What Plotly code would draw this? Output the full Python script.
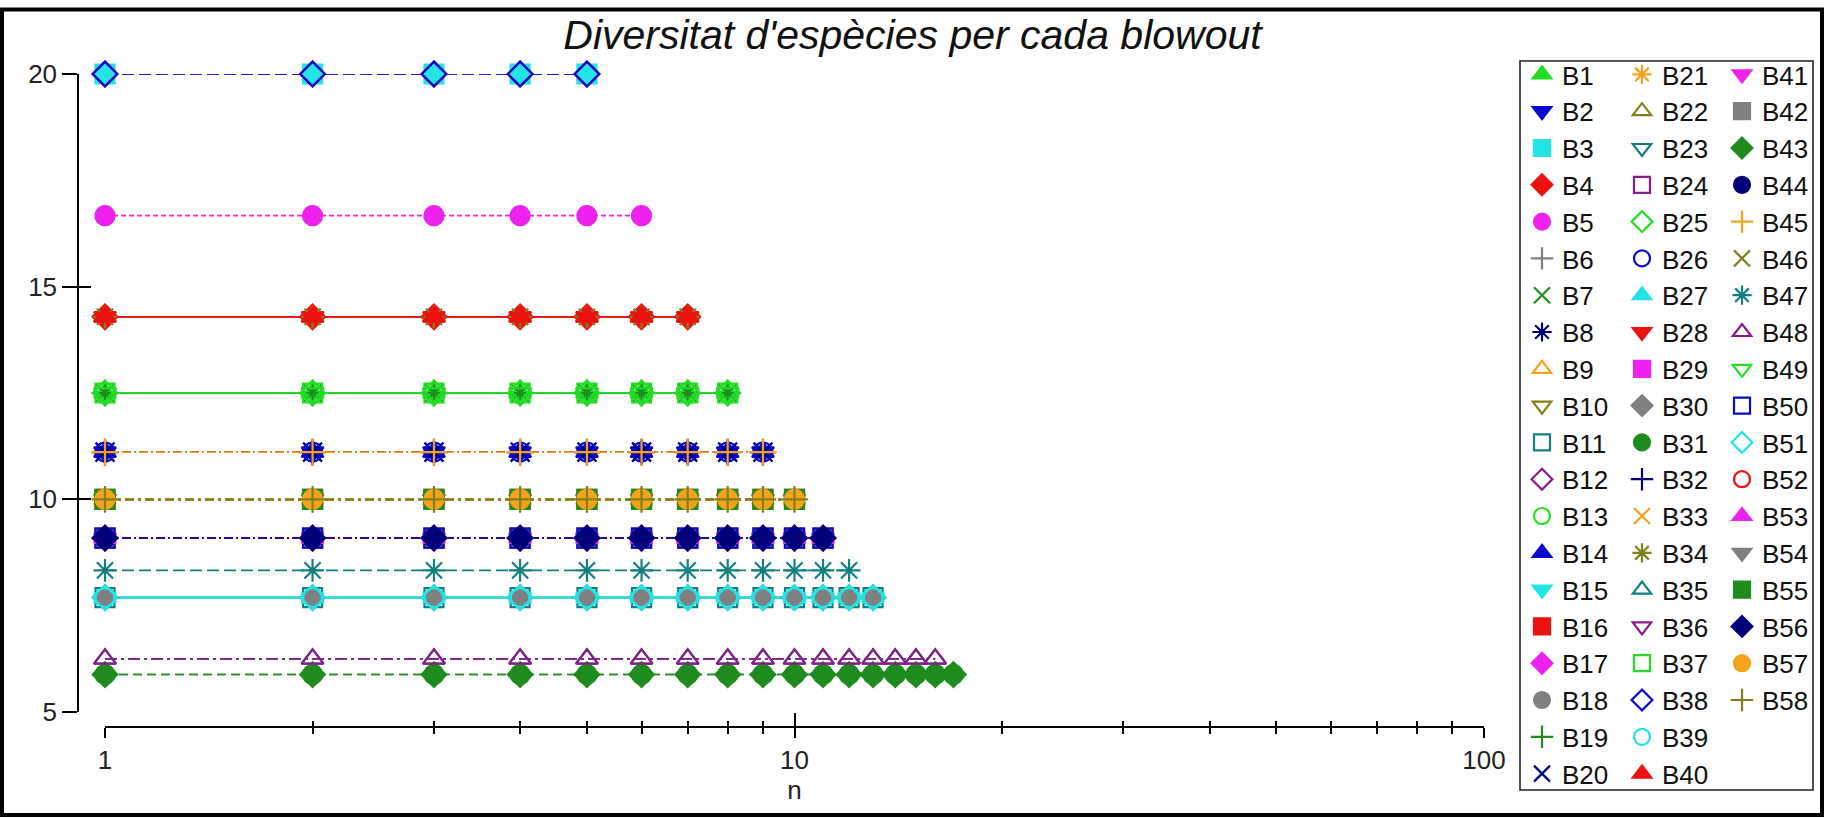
import plotly.graph_objects as go

# diversitat (100/N) de cada grup i nombre de mostres n de cada grup
levels = [20.0, 16.67, 14.29, 12.5, 11.11, 10.0, 9.09, 8.33, 7.69, 6.25, 5.88]
level_len = [5, 6, 7, 8, 9, 10, 11, 12, 13, 16, 17]
n_values = [1, 2, 3, 4, 5, 6, 7, 8, 9, 10, 11, 12, 13, 14, 15, 16, 17]

names = ["B%d" % i for i in range(1, 59)]
series_level = [
    12.5, 11.11, 20.0, 14.29, 16.67, 9.09, 12.5, 11.11, 10.0, 10.0,
    7.69, 20.0, 12.5, 11.11, 7.69, 10.0, 9.09, 9.09, 12.5, 11.11,
    10.0, 14.29, 12.5, 9.09, 12.5, 11.11, 7.69, 14.29, 9.09, 7.69,
    5.88, 11.11, 10.0, 14.29, 6.25, 9.09, 12.5, 20.0, 7.69, 14.29,
    9.09, 9.09, 5.88, 9.09, 11.11, 10.0, 8.33, 6.25, 12.5, 9.09,
    7.69, 10.0, 9.09, 10.0, 10.0, 9.09, 10.0, 10.0,
]

x_major_ticks = [1, 10, 100]
x_minor_ticks = [2, 3, 4, 5, 6, 7, 8, 9, 20, 30, 40, 50, 60, 70, 80, 90]
y_ticks = [5, 10, 15, 20]

# estil
palette = ["#22dd22", "#0a0acc", "#22e4e4", "#ee1111", "#ee22ee", "#808080",
           "#1e8c1e", "#00007a", "#f5a31a", "#80801a", "#128080", "#8c1a8c"]
symbols = ["triangle-up", "triangle-down", "square", "diamond", "circle",
           "cross-thin", "x-thin", "asterisk", "triangle-up-open",
           "triangle-down-open", "square-open", "diamond-open", "circle-open"]
level_dash = ["12px,5px", "5px,3px", "solid", "solid", "9px,3px,2px,3px",
              "9px,4px,3px,4px", "9px,3px,2px,3px", "12px,5px", "solid",
              "12px,4px,3px,4px", "9px,5px"]

W, H = 1825, 818
L, R, T, B = 78, 1484, 9, 815       # area de paper (alta perquè la llegenda hi càpiga)
X1_PX, Y5_PX, Y20_PX, XAXIS_PX = 105, 712, 74, 727


def px(x):
    return (x - L) / (R - L)


def py(y):
    return (B - y) / (B - T)


FONT = "Liberation Sans, Arial, sans-serif"

fig = go.Figure()

for i, name in enumerate(names):
    k = levels.index(series_level[i])
    xs = n_values[:level_len[k]]
    ys = [series_level[i]] * len(xs)
    fig.add_trace(go.Scatter(x=xs, y=ys, mode="lines", cliponaxis=False,
                             line=dict(color=palette[i % 12], width=1.6, dash=level_dash[k]),
                             showlegend=False, hoverinfo="skip", legendgroup=name))

for i, name in enumerate(names):
    k = levels.index(series_level[i])
    xs = n_values[:level_len[k]]
    ys = [series_level[i]] * len(xs)
    c = palette[i % 12]
    fig.add_trace(go.Scatter(x=xs, y=ys, mode="markers", name=name, cliponaxis=False,
                             legendgroup=name,
                             legend="legend" if i < 20 else ("legend2" if i < 40 else "legend3"),
                             marker=dict(symbol=symbols[i % 13], size=19, color=c,
                                         line=dict(color=c, width=2.2))))

# eixos buits per fer les marques que creuen la línia
fig.add_trace(go.Scatter(x=[], y=[], xaxis="x2", yaxis="y2", showlegend=False, hoverinfo="skip"))

leg = dict(yanchor="top", xanchor="left", y=py(51), bgcolor="rgba(0,0,0,0)", borderwidth=0,
           font=dict(family=FONT, size=26, color="#111"), itemwidth=30, tracegroupgap=0)

fig.update_layout(
    width=W, height=H,
    margin=dict(l=L, r=W - R, t=T, b=H - B, autoexpand=False),
    paper_bgcolor="white", plot_bgcolor="white",
    font=dict(family=FONT, color="#111"),
    title=dict(text="<i>Diversitat d'espècies per cada blowout</i>", xref="container", x=0.5,
               xanchor="center", y=1 - 35 / H, yanchor="middle", font=dict(size=41, color="#111")),
    xaxis=dict(type="log", range=[0, 2], domain=[px(X1_PX), 1], anchor="free", position=py(XAXIS_PX),
               showline=True, linecolor="black", linewidth=1.5, showgrid=False, zeroline=False,
               ticks="outside", ticklen=10, tickwidth=1.5, tickcolor="black",
               tickvals=x_major_ticks, ticktext=[str(v) for v in x_major_ticks],
               tickfont=dict(size=26, color="#222"),
               minor=dict(ticks="outside", ticklen=6, tickwidth=1.5, tickcolor="black",
                          tickvals=x_minor_ticks, showgrid=False),
               title=dict(text="n", font=dict(size=26, color="#222"), standoff=4)),
    xaxis2=dict(type="log", range=[0, 2], overlaying="x", anchor="free", position=py(XAXIS_PX),
                showline=False, showgrid=False, zeroline=False, showticklabels=False,
                ticks="inside", ticklen=14, tickwidth=1.5, tickcolor="black", tickvals=x_major_ticks,
                minor=dict(ticks="inside", ticklen=6, tickwidth=1.5, tickcolor="black",
                           tickvals=x_minor_ticks, showgrid=False)),
    yaxis=dict(range=[5, 20], domain=[py(Y5_PX), py(Y20_PX)], anchor="free", position=0,
               showline=True, linecolor="black", linewidth=1.5, showgrid=False, zeroline=False,
               ticks="outside", ticklen=15, tickwidth=1.5, tickcolor="black",
               tickvals=y_ticks, tickfont=dict(size=26, color="#222")),
    yaxis2=dict(range=[5, 20], overlaying="y", anchor="free", position=0,
                showline=False, showgrid=False, zeroline=False, showticklabels=False,
                ticks="inside", ticklen=12, tickwidth=1.5, tickcolor="black", tickvals=y_ticks),
    legend=dict(leg, x=px(1522)),
    legend2=dict(leg, x=px(1622)),
    legend3=dict(leg, x=px(1722)),
    shapes=[
        dict(type="rect", xref="paper", yref="paper", x0=px(1520), x1=px(1813),
             y0=py(790), y1=py(61), line=dict(color="#222", width=1.6)),
        dict(type="rect", xref="paper", yref="paper", x0=px(2), x1=px(1822),
             y0=py(815), y1=py(9.5), line=dict(color="black", width=4)),
    ],
    showlegend=True,
)

fig.write_html("out.html", config={"displayModeBar": False},
               post_script="document.body.style.margin='0';")
